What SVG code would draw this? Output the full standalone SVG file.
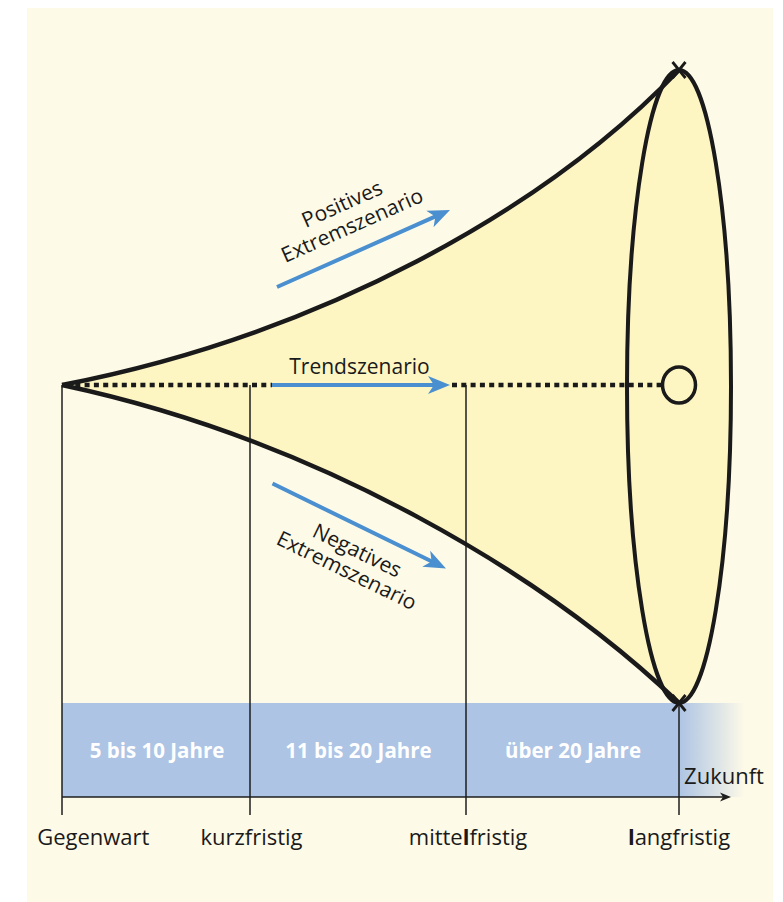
<svg xmlns="http://www.w3.org/2000/svg" width="783" height="902" viewBox="0 0 783 902">
<style>
.ln{stroke:#1e1e1e;stroke-width:1.5;fill:none}
.crv{stroke:#1a1a1a;stroke-width:4.5;fill:none}
.blue{stroke:#4a8fcf;stroke-width:4;fill:none}
.dot{stroke:#1a1a1a;stroke-width:4.5;stroke-dasharray:5 4.3;fill:none}
.t{font-family:"Open Sans","Noto Sans",sans-serif;font-size:21px;fill:#1a1a1a}
.b{font-size:22px}
.w{font-family:"Open Sans","Noto Sans",sans-serif;font-size:20.5px;font-weight:700;fill:#ffffff}
</style>
<defs>
<marker id="bh" markerUnits="userSpaceOnUse" markerWidth="24" markerHeight="20" viewBox="0 -10 24 20" refX="8" refY="0" orient="auto">
<path d="M0,-9 L22,0 L0,9 L6,0 Z" fill="#4a8fcf"/>
</marker>
<marker id="ah" markerUnits="userSpaceOnUse" markerWidth="12" markerHeight="10" viewBox="0 -5 12 10" refX="3" refY="0" orient="auto">
<path d="M0,-4.5 L11,0 L0,4.5 L3,0 Z" fill="#1e1e1e"/>
</marker>
<linearGradient id="fade" gradientUnits="userSpaceOnUse" x1="679" y1="0" x2="745" y2="0">
<stop offset="0" stop-color="#adc4e4" stop-opacity="1"/>
<stop offset="1" stop-color="#adc4e4" stop-opacity="0"/>
</linearGradient>
</defs>
<rect x="0" y="0" width="783" height="902" fill="#ffffff"/>
<rect x="27" y="8" width="746" height="894" fill="#fefae8"/>
<g id="band">
<rect x="62" y="703" width="617" height="94" fill="#adc4e4"/>
<rect x="679" y="703" width="66" height="94" fill="url(#fade)"/>
</g>
<g id="funnel">
<path d="M62,385 C320,335 545,210 679,70 L679,703 C545,575 320,440 62,385 Z" fill="#fdf5c2"/>
</g>
<g id="ellipse">
<ellipse cx="679" cy="386.5" rx="52" ry="316.5" fill="#fdf5c2" stroke="#1a1a1a" stroke-width="4"/>
</g>
<g id="connectors">
<line class="ln" x1="62" y1="385" x2="62" y2="815"/>
<line class="ln" x1="250" y1="385" x2="250" y2="815"/>
<line class="ln" x1="466" y1="385" x2="466" y2="815"/>
<line class="ln" x1="679" y1="703" x2="679" y2="815"/>
<line class="ln" x1="62" y1="797" x2="723" y2="797" marker-end="url(#ah)"/>
<path class="crv" d="M62,385 C320,335 545,210 679,70"/>
<path class="crv" d="M62,385 C320,440 545,575 679,703"/>
<line class="dot" x1="66" y1="385" x2="272" y2="385"/>
<line class="dot" x1="452" y1="385" x2="662" y2="385"/>
<line class="blue" x1="277" y1="287" x2="437.2" y2="215.7" marker-end="url(#bh)"/>
<line class="blue" x1="272" y1="385" x2="436" y2="385" marker-end="url(#bh)"/>
<line class="blue" x1="272.5" y1="483.5" x2="433.4" y2="562.3" marker-end="url(#bh)"/>
</g>
<g id="marks">
<ellipse cx="679" cy="385" rx="16.5" ry="18" fill="#fdf5c2" stroke="#1a1a1a" stroke-width="3.5"/>
<path d="M672.5,62 L685.5,78 M685.5,62 L672.5,78" stroke="#1a1a1a" stroke-width="2.8"/>
<path d="M672.5,695 L685.5,711 M685.5,695 L672.5,711" stroke="#1a1a1a" stroke-width="2.8"/>
</g>
<g id="labels">
<text class="t" transform="translate(345,210.5) rotate(-24)" text-anchor="middle">Positives</text>
<text class="t" transform="translate(355,232) rotate(-24)" text-anchor="middle">Extremszenario</text>
<text class="t" x="359.5" y="374" text-anchor="middle" font-size="20.5">Trendszenario</text>
<text class="t" transform="translate(354,557) rotate(26)" text-anchor="middle">Negatives</text>
<text class="t" transform="translate(343.6,577) rotate(26)" text-anchor="middle">Extremszenario</text>
<text class="w" x="157" y="758" text-anchor="middle">5 bis 10 Jahre</text>
<text class="w" x="358.5" y="758" text-anchor="middle">11 bis 20 Jahre</text>
<text class="w" x="573" y="758" text-anchor="middle">über 20 Jahre</text>
<text class="t b" x="724" y="784" text-anchor="middle">Zukunft</text>
<text class="t b" x="93.3" y="845" text-anchor="middle">Gegenwart</text>
<text class="t b" x="251.5" y="845" text-anchor="middle">kurzfristig</text>
<text class="t b" x="468" y="845" text-anchor="middle">mitte<tspan font-weight="700">l</tspan>fristig</text>
<text class="t b" x="679" y="845" text-anchor="middle"><tspan font-weight="700">l</tspan>angfristig</text>
</g>
</svg>
